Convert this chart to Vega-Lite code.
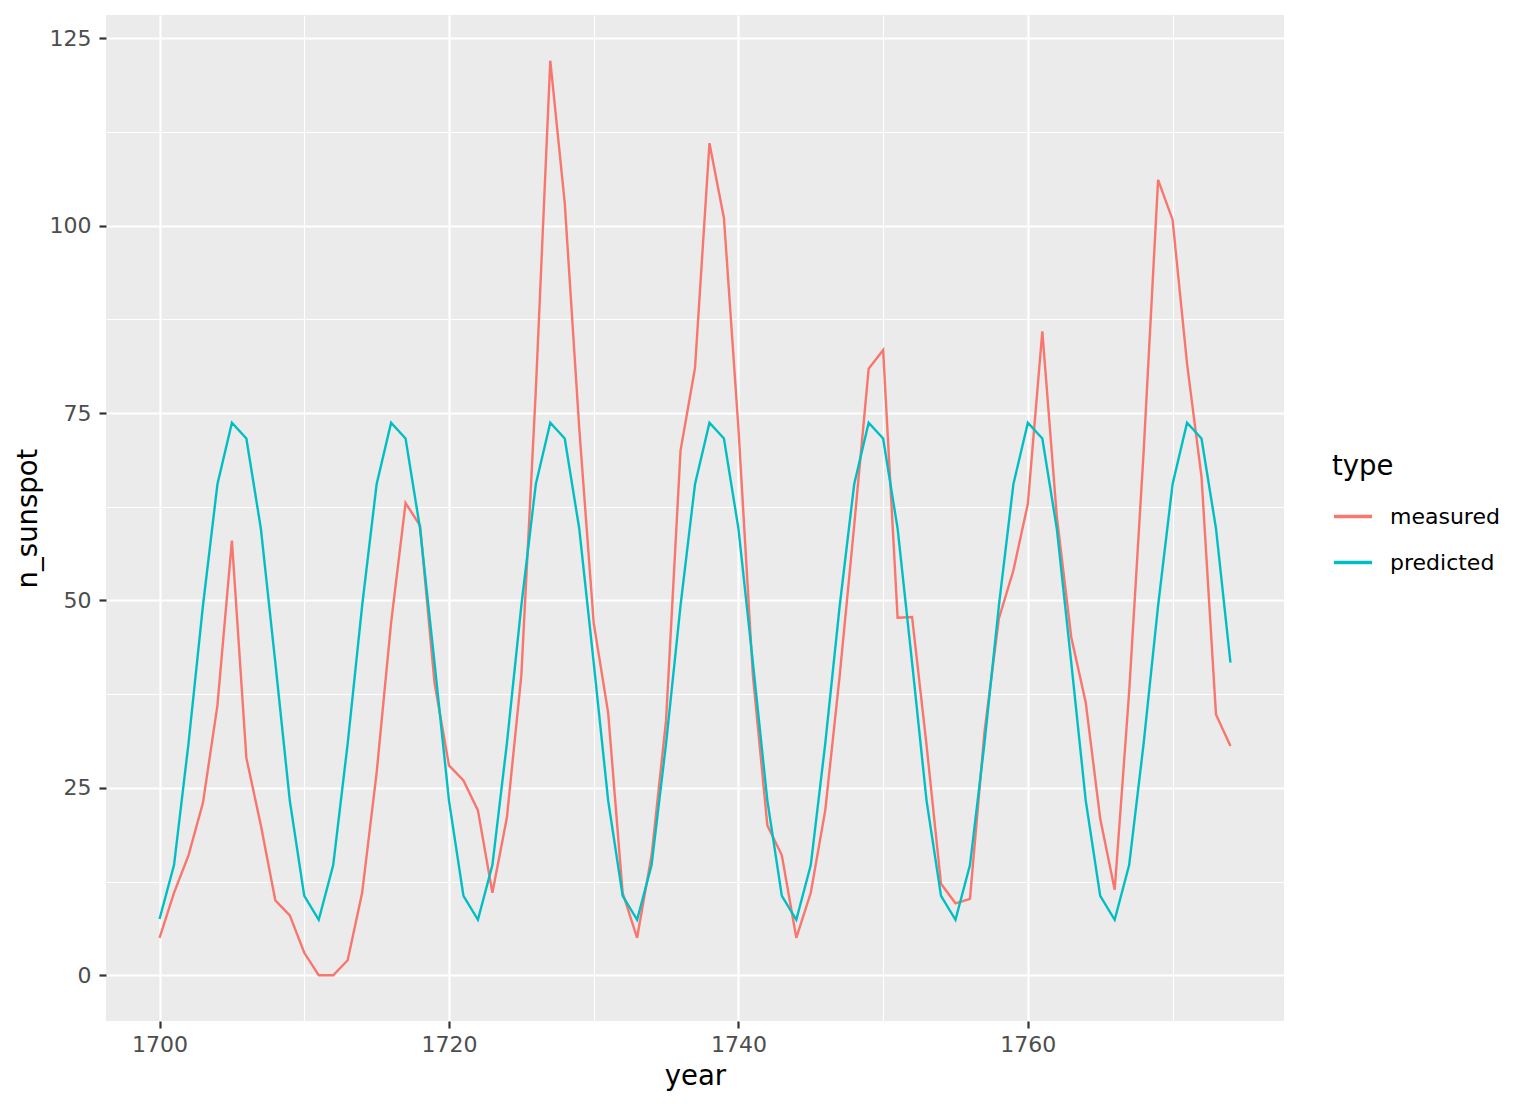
{
  "$schema": "https://vega.github.io/schema/vega-lite/v6.json",
  "autosize": {"type": "none"},
  "padding": {"left": 106, "top": 15, "right": 252, "bottom": 83},
  "width": 1178,
  "height": 1006,
  "background": "white",
  "config": {
    "font": "DejaVu Sans",
    "view": {"fill": "#EBEBEB", "stroke": null}
  },
  "data": {
    "values": [
      {"year": 1700, "type": "measured", "n_sunspot": 5},
      {"year": 1701, "type": "measured", "n_sunspot": 11},
      {"year": 1702, "type": "measured", "n_sunspot": 16},
      {"year": 1703, "type": "measured", "n_sunspot": 23},
      {"year": 1704, "type": "measured", "n_sunspot": 36},
      {"year": 1705, "type": "measured", "n_sunspot": 58},
      {"year": 1706, "type": "measured", "n_sunspot": 29},
      {"year": 1707, "type": "measured", "n_sunspot": 20},
      {"year": 1708, "type": "measured", "n_sunspot": 10},
      {"year": 1709, "type": "measured", "n_sunspot": 8},
      {"year": 1710, "type": "measured", "n_sunspot": 3},
      {"year": 1711, "type": "measured", "n_sunspot": 0},
      {"year": 1712, "type": "measured", "n_sunspot": 0},
      {"year": 1713, "type": "measured", "n_sunspot": 2},
      {"year": 1714, "type": "measured", "n_sunspot": 11},
      {"year": 1715, "type": "measured", "n_sunspot": 27},
      {"year": 1716, "type": "measured", "n_sunspot": 47},
      {"year": 1717, "type": "measured", "n_sunspot": 63},
      {"year": 1718, "type": "measured", "n_sunspot": 60},
      {"year": 1719, "type": "measured", "n_sunspot": 39},
      {"year": 1720, "type": "measured", "n_sunspot": 28},
      {"year": 1721, "type": "measured", "n_sunspot": 26},
      {"year": 1722, "type": "measured", "n_sunspot": 22},
      {"year": 1723, "type": "measured", "n_sunspot": 11},
      {"year": 1724, "type": "measured", "n_sunspot": 21},
      {"year": 1725, "type": "measured", "n_sunspot": 40},
      {"year": 1726, "type": "measured", "n_sunspot": 78},
      {"year": 1727, "type": "measured", "n_sunspot": 122},
      {"year": 1728, "type": "measured", "n_sunspot": 103},
      {"year": 1729, "type": "measured", "n_sunspot": 73},
      {"year": 1730, "type": "measured", "n_sunspot": 47},
      {"year": 1731, "type": "measured", "n_sunspot": 35},
      {"year": 1732, "type": "measured", "n_sunspot": 11},
      {"year": 1733, "type": "measured", "n_sunspot": 5},
      {"year": 1734, "type": "measured", "n_sunspot": 16},
      {"year": 1735, "type": "measured", "n_sunspot": 34},
      {"year": 1736, "type": "measured", "n_sunspot": 70},
      {"year": 1737, "type": "measured", "n_sunspot": 81},
      {"year": 1738, "type": "measured", "n_sunspot": 111},
      {"year": 1739, "type": "measured", "n_sunspot": 101},
      {"year": 1740, "type": "measured", "n_sunspot": 73},
      {"year": 1741, "type": "measured", "n_sunspot": 40},
      {"year": 1742, "type": "measured", "n_sunspot": 20},
      {"year": 1743, "type": "measured", "n_sunspot": 16},
      {"year": 1744, "type": "measured", "n_sunspot": 5},
      {"year": 1745, "type": "measured", "n_sunspot": 11},
      {"year": 1746, "type": "measured", "n_sunspot": 22},
      {"year": 1747, "type": "measured", "n_sunspot": 40},
      {"year": 1748, "type": "measured", "n_sunspot": 60},
      {"year": 1749, "type": "measured", "n_sunspot": 80.9},
      {"year": 1750, "type": "measured", "n_sunspot": 83.4},
      {"year": 1751, "type": "measured", "n_sunspot": 47.7},
      {"year": 1752, "type": "measured", "n_sunspot": 47.8},
      {"year": 1753, "type": "measured", "n_sunspot": 30.7},
      {"year": 1754, "type": "measured", "n_sunspot": 12.2},
      {"year": 1755, "type": "measured", "n_sunspot": 9.6},
      {"year": 1756, "type": "measured", "n_sunspot": 10.2},
      {"year": 1757, "type": "measured", "n_sunspot": 32.4},
      {"year": 1758, "type": "measured", "n_sunspot": 47.6},
      {"year": 1759, "type": "measured", "n_sunspot": 54},
      {"year": 1760, "type": "measured", "n_sunspot": 62.9},
      {"year": 1761, "type": "measured", "n_sunspot": 85.9},
      {"year": 1762, "type": "measured", "n_sunspot": 61.2},
      {"year": 1763, "type": "measured", "n_sunspot": 45.1},
      {"year": 1764, "type": "measured", "n_sunspot": 36.4},
      {"year": 1765, "type": "measured", "n_sunspot": 20.9},
      {"year": 1766, "type": "measured", "n_sunspot": 11.4},
      {"year": 1767, "type": "measured", "n_sunspot": 37.8},
      {"year": 1768, "type": "measured", "n_sunspot": 69.8},
      {"year": 1769, "type": "measured", "n_sunspot": 106.1},
      {"year": 1770, "type": "measured", "n_sunspot": 100.8},
      {"year": 1771, "type": "measured", "n_sunspot": 81.6},
      {"year": 1772, "type": "measured", "n_sunspot": 66.5},
      {"year": 1773, "type": "measured", "n_sunspot": 34.8},
      {"year": 1774, "type": "measured", "n_sunspot": 30.6},
      {"year": 1700, "type": "predicted", "n_sunspot": 7.5},
      {"year": 1701, "type": "predicted", "n_sunspot": 14.7},
      {"year": 1702, "type": "predicted", "n_sunspot": 30.9},
      {"year": 1703, "type": "predicted", "n_sunspot": 49.3},
      {"year": 1704, "type": "predicted", "n_sunspot": 65.5},
      {"year": 1705, "type": "predicted", "n_sunspot": 73.7},
      {"year": 1706, "type": "predicted", "n_sunspot": 71.6},
      {"year": 1707, "type": "predicted", "n_sunspot": 59.6},
      {"year": 1708, "type": "predicted", "n_sunspot": 41.7},
      {"year": 1709, "type": "predicted", "n_sunspot": 23.3},
      {"year": 1710, "type": "predicted", "n_sunspot": 10.6},
      {"year": 1711, "type": "predicted", "n_sunspot": 7.4},
      {"year": 1712, "type": "predicted", "n_sunspot": 14.7},
      {"year": 1713, "type": "predicted", "n_sunspot": 30.9},
      {"year": 1714, "type": "predicted", "n_sunspot": 49.3},
      {"year": 1715, "type": "predicted", "n_sunspot": 65.5},
      {"year": 1716, "type": "predicted", "n_sunspot": 73.7},
      {"year": 1717, "type": "predicted", "n_sunspot": 71.6},
      {"year": 1718, "type": "predicted", "n_sunspot": 59.6},
      {"year": 1719, "type": "predicted", "n_sunspot": 41.7},
      {"year": 1720, "type": "predicted", "n_sunspot": 23.3},
      {"year": 1721, "type": "predicted", "n_sunspot": 10.6},
      {"year": 1722, "type": "predicted", "n_sunspot": 7.4},
      {"year": 1723, "type": "predicted", "n_sunspot": 14.7},
      {"year": 1724, "type": "predicted", "n_sunspot": 30.9},
      {"year": 1725, "type": "predicted", "n_sunspot": 49.3},
      {"year": 1726, "type": "predicted", "n_sunspot": 65.5},
      {"year": 1727, "type": "predicted", "n_sunspot": 73.7},
      {"year": 1728, "type": "predicted", "n_sunspot": 71.6},
      {"year": 1729, "type": "predicted", "n_sunspot": 59.6},
      {"year": 1730, "type": "predicted", "n_sunspot": 41.7},
      {"year": 1731, "type": "predicted", "n_sunspot": 23.3},
      {"year": 1732, "type": "predicted", "n_sunspot": 10.6},
      {"year": 1733, "type": "predicted", "n_sunspot": 7.4},
      {"year": 1734, "type": "predicted", "n_sunspot": 14.7},
      {"year": 1735, "type": "predicted", "n_sunspot": 30.9},
      {"year": 1736, "type": "predicted", "n_sunspot": 49.3},
      {"year": 1737, "type": "predicted", "n_sunspot": 65.5},
      {"year": 1738, "type": "predicted", "n_sunspot": 73.7},
      {"year": 1739, "type": "predicted", "n_sunspot": 71.6},
      {"year": 1740, "type": "predicted", "n_sunspot": 59.6},
      {"year": 1741, "type": "predicted", "n_sunspot": 41.7},
      {"year": 1742, "type": "predicted", "n_sunspot": 23.3},
      {"year": 1743, "type": "predicted", "n_sunspot": 10.6},
      {"year": 1744, "type": "predicted", "n_sunspot": 7.4},
      {"year": 1745, "type": "predicted", "n_sunspot": 14.7},
      {"year": 1746, "type": "predicted", "n_sunspot": 30.9},
      {"year": 1747, "type": "predicted", "n_sunspot": 49.3},
      {"year": 1748, "type": "predicted", "n_sunspot": 65.5},
      {"year": 1749, "type": "predicted", "n_sunspot": 73.7},
      {"year": 1750, "type": "predicted", "n_sunspot": 71.6},
      {"year": 1751, "type": "predicted", "n_sunspot": 59.6},
      {"year": 1752, "type": "predicted", "n_sunspot": 41.7},
      {"year": 1753, "type": "predicted", "n_sunspot": 23.3},
      {"year": 1754, "type": "predicted", "n_sunspot": 10.6},
      {"year": 1755, "type": "predicted", "n_sunspot": 7.4},
      {"year": 1756, "type": "predicted", "n_sunspot": 14.7},
      {"year": 1757, "type": "predicted", "n_sunspot": 30.9},
      {"year": 1758, "type": "predicted", "n_sunspot": 49.3},
      {"year": 1759, "type": "predicted", "n_sunspot": 65.5},
      {"year": 1760, "type": "predicted", "n_sunspot": 73.7},
      {"year": 1761, "type": "predicted", "n_sunspot": 71.6},
      {"year": 1762, "type": "predicted", "n_sunspot": 59.6},
      {"year": 1763, "type": "predicted", "n_sunspot": 41.7},
      {"year": 1764, "type": "predicted", "n_sunspot": 23.3},
      {"year": 1765, "type": "predicted", "n_sunspot": 10.6},
      {"year": 1766, "type": "predicted", "n_sunspot": 7.4},
      {"year": 1767, "type": "predicted", "n_sunspot": 14.7},
      {"year": 1768, "type": "predicted", "n_sunspot": 30.9},
      {"year": 1769, "type": "predicted", "n_sunspot": 49.3},
      {"year": 1770, "type": "predicted", "n_sunspot": 65.5},
      {"year": 1771, "type": "predicted", "n_sunspot": 73.7},
      {"year": 1772, "type": "predicted", "n_sunspot": 71.6},
      {"year": 1773, "type": "predicted", "n_sunspot": 59.6},
      {"year": 1774, "type": "predicted", "n_sunspot": 41.7}
    ]
  },
  "mark": {"type": "line", "strokeWidth": 2.4},
  "encoding": {
    "x": {
      "field": "year",
      "type": "quantitative",
      "title": "year",
      "scale": {"domain": [1696.3, 1777.7], "nice": false, "zero": false},
      "axis": {
        "values": [1700, 1710, 1720, 1730, 1740, 1750, 1760, 1770],
        "format": "d",
        "labelExpr": "datum.value % 20 === 0 ? datum.label : ''",
        "domain": false,
        "gridColor": "white",
        "gridWidth": {"condition": {"test": "datum.value % 20 !== 0", "value": 1.1}, "value": 2.2},
        "tickColor": "#333333",
        "tickSize": 7,
        "tickWidth": 2.2,
        "tickOpacity": {"condition": {"test": "datum.value % 20 !== 0", "value": 0}, "value": 1},
        "labelColor": "#4D4D4D",
        "labelFontSize": 22,
        "labelPadding": 6,
        "titleFontSize": 27.5,
        "titleFontWeight": "normal",
        "titleColor": "black",
        "titlePadding": 7
      }
    },
    "y": {
      "field": "n_sunspot",
      "type": "quantitative",
      "title": "n_sunspot",
      "scale": {"domain": [-6.1, 128.1], "nice": false, "zero": false},
      "axis": {
        "values": [0, 12.5, 25, 37.5, 50, 62.5, 75, 87.5, 100, 112.5, 125],
        "labelExpr": "datum.value % 25 === 0 ? datum.label : ''",
        "domain": false,
        "gridColor": "white",
        "gridWidth": {"condition": {"test": "datum.value % 25 !== 0", "value": 1.1}, "value": 2.2},
        "tickColor": "#333333",
        "tickSize": 7,
        "tickWidth": 2.2,
        "tickOpacity": {"condition": {"test": "datum.value % 25 !== 0", "value": 0}, "value": 1},
        "labelColor": "#4D4D4D",
        "labelFontSize": 22,
        "labelPadding": 8,
        "titleFontSize": 27.5,
        "titleFontWeight": "normal",
        "titleColor": "black",
        "titlePadding": 7
      }
    },
    "color": {
      "field": "type",
      "type": "nominal",
      "scale": {"domain": ["measured", "predicted"], "range": ["#F8766D", "#00BFC4"]},
      "legend": {
        "orient": "none",
        "legendX": 1226,
        "legendY": 438,
        "title": "type",
        "titleFontSize": 27.5,
        "titleFontWeight": "normal",
        "titleColor": "black",
        "titlePadding": 15,
        "labelFontSize": 22,
        "labelColor": "black",
        "labelOffset": 16,
        "symbolType": "stroke",
        "symbolSize": 1444,
        "symbolStrokeWidth": 3.5,
        "rowPadding": 14
      }
    }
  }
}
